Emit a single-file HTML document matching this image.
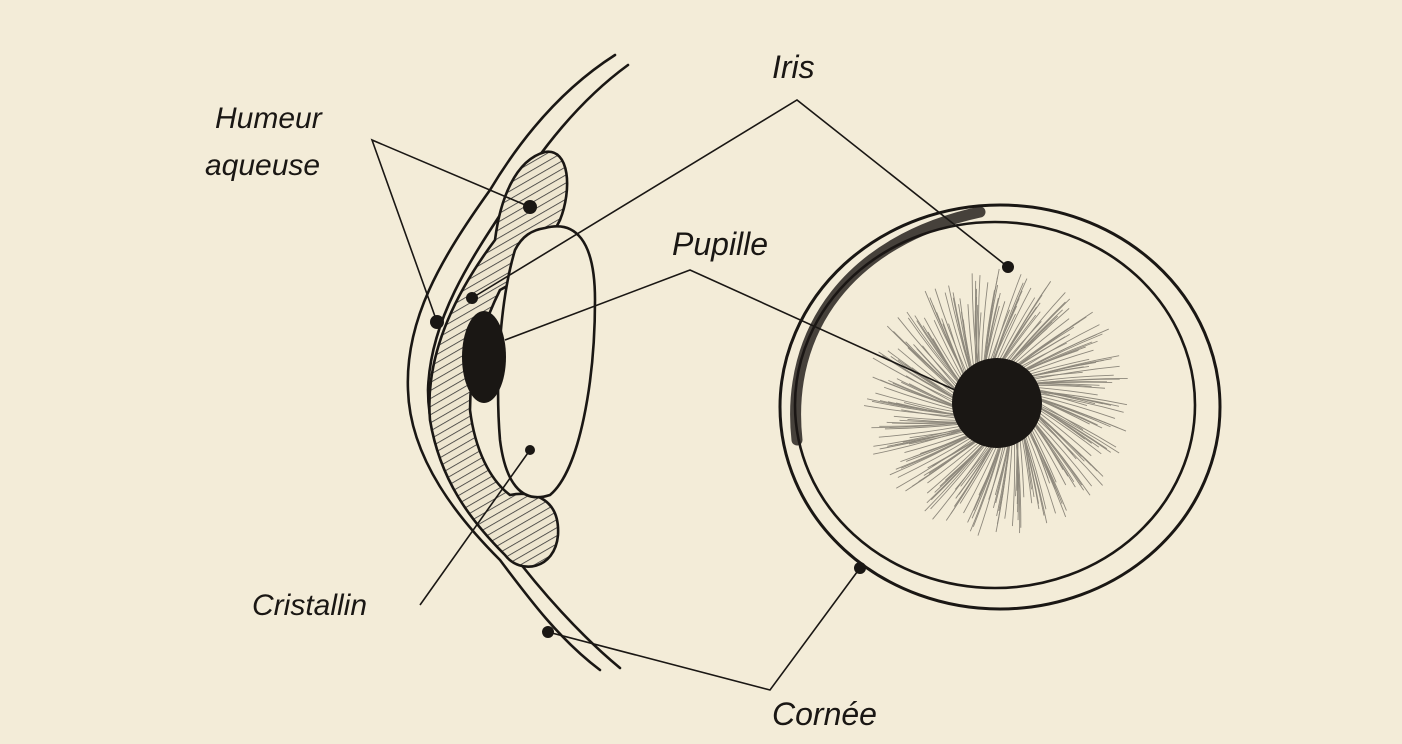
<!DOCTYPE html>
<html><head><meta charset="utf-8"><style>
html,body{margin:0;padding:0;background:#f3ecd8;}
svg{display:block}
text{font-family:"Liberation Sans",sans-serif;font-style:italic;fill:#1a1714;}
</style></head><body>
<svg width="1402" height="744" viewBox="0 0 1402 744" xmlns="http://www.w3.org/2000/svg">
<defs>
<pattern id="hatch" width="7" height="7" patternUnits="userSpaceOnUse" patternTransform="rotate(60)">
<rect width="7" height="7" fill="#eee6d0"/><line x1="0" y1="0" x2="0" y2="7" stroke="#333" stroke-width="1.6"/>
</pattern>
</defs>
<rect width="1402" height="744" fill="#f3ecd8"/>
<g fill="none" stroke="#1a1714" stroke-width="2.6" stroke-linecap="round">
<path d="M615,55 C560,90 520,140 490,190 C440,260 405,320 408,390 C410,460 460,520 500,560 C530,600 560,640 600,670"/>
<path d="M628,65 C580,100 540,150 510,200 C470,260 430,320 428,390 C428,460 470,510 510,550 C540,590 580,635 620,668"/>
<path d="M495,240 C500,200 515,160 545,152 C570,148 572,190 560,220 C540,260 520,280 500,290 C480,330 470,370 470,410 C475,450 490,480 510,495 C535,490 560,500 558,535 C555,570 520,575 505,555 C470,520 440,480 430,420 C425,360 450,300 495,240 Z" fill="url(#hatch)"/>
<path d="M545,228 C575,220 595,240 595,300 C595,380 580,470 550,495 C520,505 505,480 500,440 C495,380 500,300 515,250 C522,236 532,230 545,228 Z" fill="#f3ecd8"/>
</g>
<ellipse cx="484" cy="357" rx="22" ry="46" fill="#1a1714"/>
<g fill="none" stroke="#1a1714" stroke-linecap="round">
<ellipse cx="1000" cy="407" rx="220" ry="202" stroke-width="3"/>
<ellipse cx="995" cy="405" rx="200" ry="183" stroke-width="2.6"/>
<path d="M797,440 C785,330 850,240 980,212" stroke-width="11" opacity="0.8"/>
</g>
<g id="hairg" stroke="#2a2622" stroke-width="0.9" opacity="0.5" fill="none"></g>
<circle cx="997" cy="403" r="45" fill="#1a1714"/>
<g stroke="#1a1714" stroke-width="1.6" fill="none">
<path d="M472,298 L797,100 L1008,267"/>
<path d="M505,340 L690,270 L955,390"/>
<path d="M530,207 L372,140 L437,322"/>
<path d="M420,605 L530,450"/>
<path d="M548,632 L770,690 L860,568"/>
</g>
<g fill="#1a1714">
<circle cx="472" cy="298" r="6"/><circle cx="1008" cy="267" r="6"/>
<circle cx="530" cy="207" r="7"/><circle cx="437" cy="322" r="7"/>
<circle cx="530" cy="450" r="5"/><circle cx="548" cy="632" r="6"/><circle cx="860" cy="568" r="6"/>
</g>
<text x="772" y="78" font-size="32">Iris</text>
<text x="215" y="128" font-size="30">Humeur</text>
<text x="205" y="175" font-size="30">aqueuse</text>
<text x="672" y="255" font-size="32">Pupille</text>
<text x="252" y="615" font-size="30">Cristallin</text>
<text x="772" y="725" font-size="32">Cornée</text>
</svg>
<script>
var g=document.getElementById('hairg'),s='';
for(var i=0;i<280;i++){var a=i/280*Math.PI*2+Math.sin(i*7)*0.05,r1=42,r2=90+((i*37)%45);
var x1=997+r1*Math.cos(a),y1=403+r1*Math.sin(a),am=a+0.2,rm=(r1+r2)/2;
var xm=997+rm*Math.cos(am),ym=403+rm*Math.sin(am),x2=997+r2*Math.cos(a+0.3),y2=403+r2*Math.sin(a+0.3);
s+='<path d="M'+x1+','+y1+' Q'+xm+','+ym+' '+x2+','+y2+'"/>';}
g.innerHTML=s;
</script>
</body></html>
